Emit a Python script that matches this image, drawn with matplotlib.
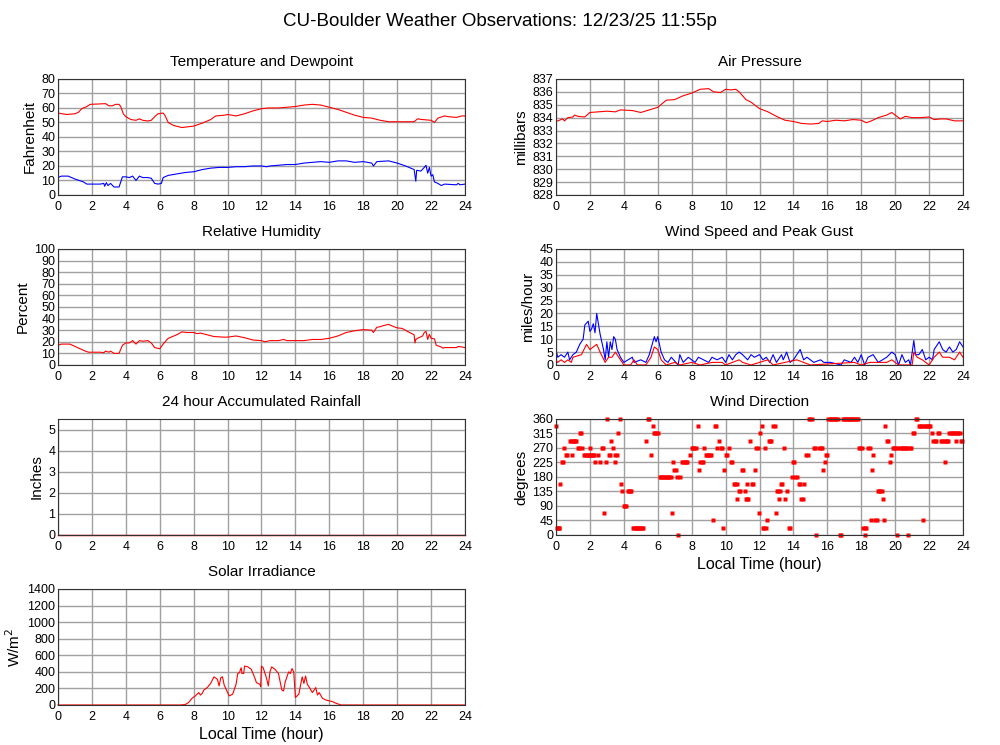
import matplotlib
matplotlib.use("Agg")
import matplotlib.pyplot as plt

plt.rcParams['font.family'] = ['Liberation Sans', 'DejaVu Sans']

# ---- data ----
temp_t = [0, 0.5, 1.0, 1.2, 1.4, 1.7, 1.9, 2.5, 2.8, 3.0, 3.2, 3.4, 3.6, 3.7, 3.85, 4.0, 4.3, 4.6, 4.8, 5.0,
          5.3, 5.5, 5.7, 5.9, 6.2, 6.3, 6.5, 6.8, 7.3, 8.0, 8.5, 9.0, 9.3, 9.8, 10.0, 10.5, 11.0, 11.5, 12.0,
          12.4, 13.0, 13.5, 14.0, 14.5, 15.0, 15.5, 16.0, 16.5, 17.0, 17.5, 18.0, 18.5, 19.0, 19.5, 20.0,
          20.5, 21.0, 21.2, 21.5, 22.0, 22.2, 22.4, 22.8, 23.0, 23.5, 23.8, 24]
temp_f = [56.5, 55.5, 56, 57, 59.5, 61, 62.5, 62.8, 63, 61.5, 61.5, 62.5, 62.5, 61, 56, 54, 52, 51.5, 52.5, 51.5,
          51, 51.5, 54, 56, 56.5, 55, 50, 48, 46.5, 47.5, 49.5, 52, 54.5, 55, 55.5, 54.5, 56, 58, 59.5,
          60, 60, 60.5, 61, 62, 62.5, 62, 60.5, 59, 57, 55, 53.5, 53, 51.5, 50.5, 50.5,
          50.5, 50.5, 52.5, 52, 51.5, 50, 53, 54.5, 54, 53.5, 54.5, 54.5]

dew_t = [0, 0.2, 0.6, 1.0, 1.5, 1.7, 2.0, 2.5, 2.7, 2.75, 2.85, 2.95, 3.1, 3.3, 3.6, 3.8, 4.0, 4.2, 4.4, 4.6,
         4.8, 5.0, 5.3, 5.5, 5.7, 5.9, 6.1, 6.2, 6.5, 7.0, 7.5, 8.0, 8.5, 9.0, 9.5, 10.0, 10.5, 11.0, 11.5,
         12.0, 12.3, 12.5, 13.0, 13.5, 14.0, 14.5, 15.0, 15.5, 16.0, 16.5, 17.0, 17.5, 18.0, 18.5, 18.6,
         18.8, 19.5, 20.0, 20.5, 21.0, 21.1, 21.15, 21.4, 21.6, 21.7, 21.8, 21.9, 22.0, 22.1, 22.2, 22.4,
         22.6, 22.8, 23.5, 23.6, 23.7, 24]
dew_f = [12, 13, 13, 11, 9, 7.5, 7.5, 7.5, 8, 6, 8.5, 6.5, 8, 5.5, 5.5, 12.5, 12.5, 12, 13, 10,
         13, 12, 12, 11.5, 8, 7.5, 8, 12, 13.5, 14.5, 15.5, 16, 17.5, 18.5, 19, 19, 19.5, 19.5, 20,
         20, 19.5, 20, 20.5, 21, 21, 22, 22.5, 23, 22.5, 23.5, 23.5, 22.5, 23, 22, 20,
         23, 23.5, 22, 20, 17.5, 9.5, 17, 16.5, 19, 20.5, 15, 19, 13, 14, 9, 8,
         6.5, 7.5, 7, 8, 7, 7.5]

pres_t = [0, 0.2, 0.4, 0.5, 0.7, 1.0, 1.1, 1.3, 1.7, 2.0, 2.5, 3.0, 3.5, 3.8, 4.5, 5.0, 5.5, 6.0, 6.5, 7.0,
          7.5, 8.0, 8.5, 9.0, 9.3, 9.7, 10.0, 10.3, 10.6, 10.8, 11.2, 11.5, 12.0, 12.5, 13.0, 13.5, 14.0,
          14.5, 15.0, 15.5, 15.7, 16.0, 16.5, 17.0, 17.5, 18.0, 18.3, 18.6, 19.0, 19.5, 19.8, 20.0, 20.3,
          20.6, 21.0, 21.5, 22.0, 22.3, 22.7, 23.0, 23.5, 24]
pres_mb = [833.7, 833.8, 833.9, 833.75, 834.0, 834.05, 834.2, 834.1, 834.05, 834.4, 834.45, 834.5, 834.45,
           834.6, 834.55, 834.4, 834.6, 834.8, 835.35, 835.4, 835.7, 835.9, 836.2, 836.25, 836.0, 835.95,
           836.2, 836.15, 836.2, 836.0, 835.4, 835.2, 834.7, 834.45, 834.1, 833.8, 833.7, 833.55, 833.5,
           833.55, 833.75, 833.7, 833.8, 833.75, 833.85, 833.8, 833.6, 833.75, 834.0, 834.2, 834.4, 834.2,
           833.9, 834.1, 834.0, 834.0, 834.05, 833.85, 833.9, 833.9, 833.75, 833.75]

rh_t = [0, 0.2, 0.7, 1.0, 1.3, 1.6, 1.8, 2.5, 2.7, 2.8, 3.0, 3.1, 3.3, 3.6, 3.8, 4.0, 4.2, 4.4, 4.6, 4.8,
        5.0, 5.3, 5.5, 5.7, 6.0, 6.2, 6.5, 7.0, 7.3, 7.6, 8.0, 8.2, 8.4, 8.8, 9.2, 9.8, 10.0, 10.5, 11.0,
        11.5, 12.0, 12.2, 12.5, 13.0, 13.3, 13.5, 14.0, 14.5, 15.0, 15.5, 16.0, 16.5, 17.0, 17.5, 18.0,
        18.5, 18.6, 18.8, 19.0, 19.2, 19.5, 19.8, 20.0, 20.3, 20.6, 21.0, 21.05, 21.1, 21.2, 21.5, 21.6,
        21.7, 21.8, 21.9, 22.0, 22.2, 22.3, 22.6, 22.7, 22.8, 23.5, 23.6, 24]
rh_pct = [17, 18, 18, 16, 14, 12, 11, 11, 10.5, 12, 11, 12, 10, 10, 17, 19, 19, 21, 18, 21,
          20.5, 21, 19, 15, 14, 18, 23, 26, 28.5, 28, 28, 27, 27.5, 26, 24.5, 24, 24, 25, 23.5,
          21.5, 21, 20, 21, 21, 22, 21, 21, 21, 22, 22, 23, 25, 28, 29.5, 30.5,
          30, 28, 32.5, 33, 34, 35, 33, 32, 31.5, 29, 26, 19, 22, 23, 25, 28,
          29, 22, 26.5, 23, 22.5, 17, 15.5, 14.5, 15, 15, 16, 15]

gust_t = [0, 0.1, 0.3, 0.5, 0.7, 0.8, 1.0, 1.2, 1.4, 1.6, 1.7, 1.9, 2.0, 2.1, 2.2, 2.3, 2.4, 2.5, 2.6, 2.8,
          2.9, 3.0, 3.1, 3.2, 3.3, 3.4, 3.5, 3.6, 3.8, 4.0, 4.5, 4.6, 5.0, 5.3, 5.5, 5.8, 5.9, 6.0, 6.2,
          6.4, 6.6, 6.8, 7.2, 7.3, 7.5, 7.8, 8.2, 8.4, 9.0, 9.2, 9.5, 9.8, 10.0, 10.2, 10.4, 10.6, 10.8,
          11.0, 11.3, 11.5, 11.7, 12.0, 12.2, 12.4, 12.6, 12.8, 13.0, 13.3, 13.4, 13.6, 13.8, 14.0, 14.4,
          14.6, 14.8, 15.2, 15.6, 15.8, 16.2, 16.8, 17.0, 17.4, 17.6, 17.8, 18.0, 18.2, 18.4, 18.7, 19.0,
          19.5, 19.8, 20.0, 20.2, 20.4, 20.6, 20.8, 20.9, 21.1, 21.2, 21.4, 21.6, 21.8, 22.0, 22.2, 22.3,
          22.6, 22.8, 23.0, 23.2, 23.4, 23.6, 23.8, 24]
gust_mph = [6, 3, 4, 3, 5, 2, 4, 5, 8, 10, 15.5, 17, 13, 14, 16, 12.5, 20, 16, 12, 6,
            2, 9, 3, 9, 6, 11, 10, 6, 3, 1, 3, 1, 2, 1, 4, 11, 9, 11, 5,
            2, 1, 3, 0, 4, 1, 3, 1, 3, 1, 3, 2, 3, 1, 4, 2, 4, 5,
            4, 2, 4, 3, 4, 2, 3, 1, 4, 1, 4, 2, 5, 1, 2, 6,
            2, 3, 1, 2, 1, 1, 0, 2, 1, 3, 1, 4, 0, 3, 4, 1,
            3, 5, 4, 0, 4, 1, 2, 0, 9.5, 4, 4, 6, 2, 3, 2, 6,
            9, 6, 5, 7, 5, 6, 9, 7]

speed_t = [0, 0.1, 0.3, 0.5, 0.7, 0.9, 1.0, 1.5, 1.8, 2.0, 2.2, 2.4, 2.6, 2.9, 3.1, 3.3, 3.5, 3.8, 4.0, 4.4,
           4.6, 4.8, 5.3, 5.6, 5.8, 6.0, 6.2, 6.5, 7.0, 7.3, 8.0, 8.5, 9.2, 9.8, 10.0, 10.8, 11.0, 11.5,
           12.0, 12.5, 12.8, 13.5, 14.2, 14.6, 15.0, 17.6, 18.0, 18.5, 19.5, 19.8, 20.2, 21.0, 21.1, 21.3,
           21.6, 22.0, 22.3, 22.6, 22.8, 23.2, 23.5, 23.8, 24]
speed_mph = [2, 1, 2, 1, 2, 1, 3, 4, 8, 6, 7, 8, 5, 1, 3, 3, 5, 2, 0, 0,
             2, 0, 0, 3, 7, 6, 2, 0, 1, 0, 1, 0, 1, 1, 0, 2, 1, 0,
             1, 2, 0, 1, 2, 1, 0, 1, 0, 1, 1, 2, 0, 0, 5, 3,
             2, 0, 3, 5, 3, 3, 2, 5, 3]

# wind direction observations as (hour, degrees)
dir_obs = [
    (0.0, 337.5), (0.05, 22.5), (0.1, 22.5), (0.15, 22.5), (0.2, 22.5), (0.25, 157.5), (0.35, 225), (0.42, 225),
    (0.5, 270), (0.6, 247.5), (0.67, 247.5), (0.8, 292.5), (0.87, 292.5), (0.92, 247.5), (1.0, 292.5),
    (1.07, 292.5), (1.14, 292.5), (1.2, 292.5), (1.27, 270), (1.34, 270), (1.42, 315), (1.48, 315),
    (1.55, 270), (1.65, 247.5), (1.72, 247.5), (1.8, 247.5), (1.87, 247.5), (1.94, 247.5), (2.0, 270),
    (2.07, 247.5), (2.14, 247.5), (2.2, 247.5), (2.27, 247.5), (2.32, 225), (2.45, 247.5), (2.6, 225),
    (2.72, 270), (2.78, 270), (2.82, 67.5), (2.95, 225), (3.0, 360), (3.1, 247.5), (3.17, 247.5),
    (3.25, 292.5), (3.35, 270), (3.45, 247.5), (3.5, 225), (3.57, 247.5), (3.65, 315), (3.75, 360),
    (3.85, 157.5), (3.9, 135), (4.0, 90), (4.07, 90), (4.14, 90), (4.22, 135), (4.3, 135), (4.37, 135),
    (4.44, 135), (4.55, 22.5), (4.62, 22.5), (4.7, 22.5), (4.77, 22.5), (4.85, 22.5), (4.92, 22.5),
    (5.0, 22.5), (5.07, 22.5), (5.15, 22.5), (5.3, 292.5), (5.42, 360), (5.5, 360), (5.6, 247.5),
    (5.7, 337.5), (5.77, 315), (5.85, 315), (5.92, 315), (6.0, 315), (6.12, 180), (6.2, 180), (6.28, 180),
    (6.36, 180), (6.44, 180), (6.52, 180), (6.6, 180), (6.68, 180), (6.76, 180), (6.85, 67.5), (6.9, 225),
    (6.98, 202.5), (7.05, 202.5), (7.12, 180), (7.2, 0), (7.3, 180), (7.42, 225), (7.5, 225), (7.58, 225),
    (7.66, 225), (7.74, 225), (7.9, 247.5), (8.0, 270), (8.08, 270), (8.16, 270), (8.25, 270),
    (8.35, 337.5), (8.42, 202.5), (8.52, 225), (8.6, 225), (8.68, 225), (8.75, 270), (8.82, 247.5),
    (8.9, 247.5), (8.98, 247.5), (9.06, 247.5), (9.14, 247.5), (9.25, 45), (9.36, 337.5), (9.44, 337.5),
    (9.5, 270), (9.6, 292.5), (9.72, 270), (9.8, 270), (9.82, 22.5), (9.9, 202.5), (10.0, 247.5),
    (10.08, 247.5), (10.2, 270), (10.3, 225), (10.38, 225), (10.5, 157.5), (10.58, 157.5), (10.66, 157.5),
    (10.7, 112.5), (10.78, 135), (10.86, 135), (10.97, 202.5), (11.05, 202.5), (11.12, 135),
    (11.2, 112.5), (11.25, 157.5), (11.28, 112.5), (11.35, 112.5), (11.45, 292.5), (11.56, 157.5),
    (11.64, 157.5), (11.72, 202.5), (11.82, 270), (11.9, 270), (11.95, 67.5), (12.05, 315),
    (12.15, 337.5), (12.2, 22.5), (12.28, 22.5), (12.3, 270), (12.36, 22.5), (12.45, 45), (12.56, 292.5),
    (12.63, 292.5), (12.7, 292.5), (12.82, 337.5), (12.9, 337.5), (12.95, 67.5), (13.02, 135),
    (13.1, 135), (13.15, 112.5), (13.22, 135), (13.28, 157.5), (13.35, 157.5), (13.45, 270),
    (13.5, 112.5), (13.6, 135), (13.72, 22.5), (13.8, 22.5), (13.9, 180), (13.97, 225), (14.05, 225),
    (14.12, 180), (14.2, 180), (14.3, 157.5), (14.38, 157.5), (14.46, 112.5), (14.54, 112.5),
    (14.6, 157.5), (14.76, 247.5), (14.84, 247.5), (14.92, 360), (15.0, 360), (15.08, 360), (15.22, 270),
    (15.3, 270), (15.36, 0), (15.52, 270), (15.6, 270), (15.68, 270), (15.75, 202.5), (15.85, 225),
    (15.92, 247.5), (16.0, 247.5), (16.06, 360), (16.14, 360), (16.22, 360), (16.3, 360), (16.38, 360),
    (16.46, 360), (16.54, 360), (16.62, 360), (16.74, 0), (16.82, 0), (16.92, 360), (17.0, 360),
    (17.08, 360), (17.16, 360), (17.24, 360), (17.32, 360), (17.4, 360), (17.48, 360), (17.56, 360),
    (17.64, 360), (17.72, 360), (17.8, 360), (17.88, 270), (17.95, 270), (18.02, 270), (18.12, 22.5),
    (18.2, 22.5), (18.22, 0), (18.28, 22.5), (18.42, 270), (18.5, 270), (18.56, 45), (18.65, 202.5),
    (18.72, 247.5), (18.82, 45), (18.9, 45), (18.97, 135), (19.04, 135), (19.12, 135), (19.2, 135),
    (19.27, 112.5), (19.36, 45), (19.42, 337.5), (19.52, 292.5), (19.6, 292.5), (19.72, 225),
    (19.78, 247.5), (19.86, 270), (19.94, 270), (20.02, 270), (20.1, 0), (20.18, 270), (20.32, 270),
    (20.4, 270), (20.48, 270), (20.56, 270), (20.64, 270), (20.72, 270), (20.76, 0), (20.86, 270),
    (20.94, 270), (21.06, 315), (21.14, 315), (21.22, 360), (21.3, 360), (21.38, 337.5), (21.46, 337.5),
    (21.54, 337.5), (21.62, 337.5), (21.66, 45), (21.76, 337.5), (21.84, 337.5), (21.92, 337.5),
    (22.0, 337.5), (22.08, 337.5), (22.16, 315), (22.26, 292.5), (22.34, 292.5), (22.42, 292.5),
    (22.52, 315), (22.6, 315), (22.7, 292.5), (22.78, 292.5), (22.86, 292.5), (22.92, 225),
    (22.98, 292.5), (23.06, 292.5), (23.14, 292.5), (23.2, 315), (23.28, 315), (23.36, 315),
    (23.44, 315), (23.5, 315), (23.56, 292.5), (23.64, 315), (23.72, 315), (23.8, 315), (23.88, 292.5),
    (23.96, 292.5),
]
dir_t = [p[0] for p in dir_obs]
dir_deg = [p[1] for p in dir_obs]

rain_t = [0, 24]
rain_in = [0, 0]

solar_t = [0, 7.2, 7.5, 7.7, 7.9, 8.1, 8.3, 8.4, 8.5, 8.6, 8.8, 9.0, 9.2, 9.4, 9.5, 9.6, 9.7, 9.8, 10.0,
           10.1, 10.3, 10.5, 10.6, 10.7, 10.8, 10.85, 10.95, 11.0, 11.2, 11.4, 11.6, 11.7, 11.9, 11.95,
           12.0, 12.1, 12.3, 12.4, 12.5, 12.6, 12.8, 13.0, 13.2, 13.3, 13.4, 13.6, 13.7, 13.8, 13.9, 14.0,
           14.2, 14.4, 14.5, 14.6, 14.7, 14.8, 15.0, 15.2, 15.3, 15.4, 15.6, 15.8, 16.0, 16.2, 16.4, 16.7, 24]
solar_w = [0, 0, 5, 30, 80, 110, 150, 120, 140, 180, 210, 260, 340, 310, 230, 330, 340, 240, 150,
           110, 130, 250, 380, 390, 450, 380, 380, 470, 460, 430, 330, 270, 250, 220,
           470, 450, 320, 230, 400, 460, 430, 380, 180, 170, 280, 400, 380, 440, 400, 90,
           130, 340, 260, 350, 250, 220, 150, 210, 120, 150, 80, 60, 50, 40, 20, 0, 0]

xticks = list(range(0, 25, 2))

fig = plt.figure(figsize=(10, 7.45), dpi=100)
fig.suptitle('CU-Boulder Weather Observations: 12/23/25 11:55p', fontsize=13.5, y=0.982)

W, H = 0.407, 0.1557
left_x, right_x = 0.058, 0.556
rows = [0.7383, 0.5101, 0.2819, 0.0537]


def setup(ax, title, ylabel, ylim, yticks, xlabel=None):
    ax.set_xlim(0, 24)
    ax.set_ylim(*ylim)
    ax.set_xticks(xticks)
    ax.set_yticks(yticks)
    ax.grid(True, color='#a0a0a0', lw=1)
    ax.set_axisbelow(True)
    ax.tick_params(length=0, labelsize=9, pad=2)
    ax.tick_params(axis='x', pad=4.5)
    for s in ax.spines.values():
        s.set_color('#333333')
    ax.set_title(title, fontsize=11, pad=9)
    ax.set_ylabel(ylabel, fontsize=11, labelpad=3)
    if xlabel:
        ax.set_xlabel(xlabel, fontsize=11.5, labelpad=3)


ax = fig.add_axes([left_x, rows[0], W, H])
ax.plot(temp_t, temp_f, color='red', lw=0.8)
ax.plot(dew_t, dew_f, color='blue', lw=0.8)
setup(ax, 'Temperature and Dewpoint', 'Fahrenheit', (0, 80), range(0, 81, 10))

ax = fig.add_axes([right_x, rows[0], W, H])
ax.plot(pres_t, pres_mb, color='red', lw=0.8)
setup(ax, 'Air Pressure', 'millibars', (828, 837), range(828, 838))

ax = fig.add_axes([left_x, rows[1], W, H])
ax.plot(rh_t, rh_pct, color='red', lw=0.8)
setup(ax, 'Relative Humidity', 'Percent', (0, 100), range(0, 101, 10))

ax = fig.add_axes([right_x, rows[1], W, H])
ax.plot(gust_t, gust_mph, color='blue', lw=0.8)
ax.plot(speed_t, speed_mph, color='red', lw=0.8)
setup(ax, 'Wind Speed and Peak Gust', 'miles/hour', (0, 45), range(0, 46, 5))

ax = fig.add_axes([left_x, rows[2], W, H])
ax.plot(rain_t, rain_in, color='red', lw=1.0, clip_on=False)
setup(ax, '24 hour Accumulated Rainfall', 'Inches', (0, 5.5), range(0, 6))

ax = fig.add_axes([right_x, rows[2], W, H])
ax.plot(dir_t, dir_deg, ls='none', marker='s', ms=2.4, color='red', mec='none', clip_on=False)
setup(ax, 'Wind Direction', 'degrees', (0, 360), range(0, 361, 45), xlabel='Local Time (hour)')

ax = fig.add_axes([left_x, rows[3], W, H])
ax.plot(solar_t, solar_w, color='red', lw=0.8, clip_on=False)
setup(ax, 'Solar Irradiance', 'W/m$^2$', (0, 1400), range(0, 1401, 200), xlabel='Local Time (hour)')

fig.savefig('out.png', dpi=100)
